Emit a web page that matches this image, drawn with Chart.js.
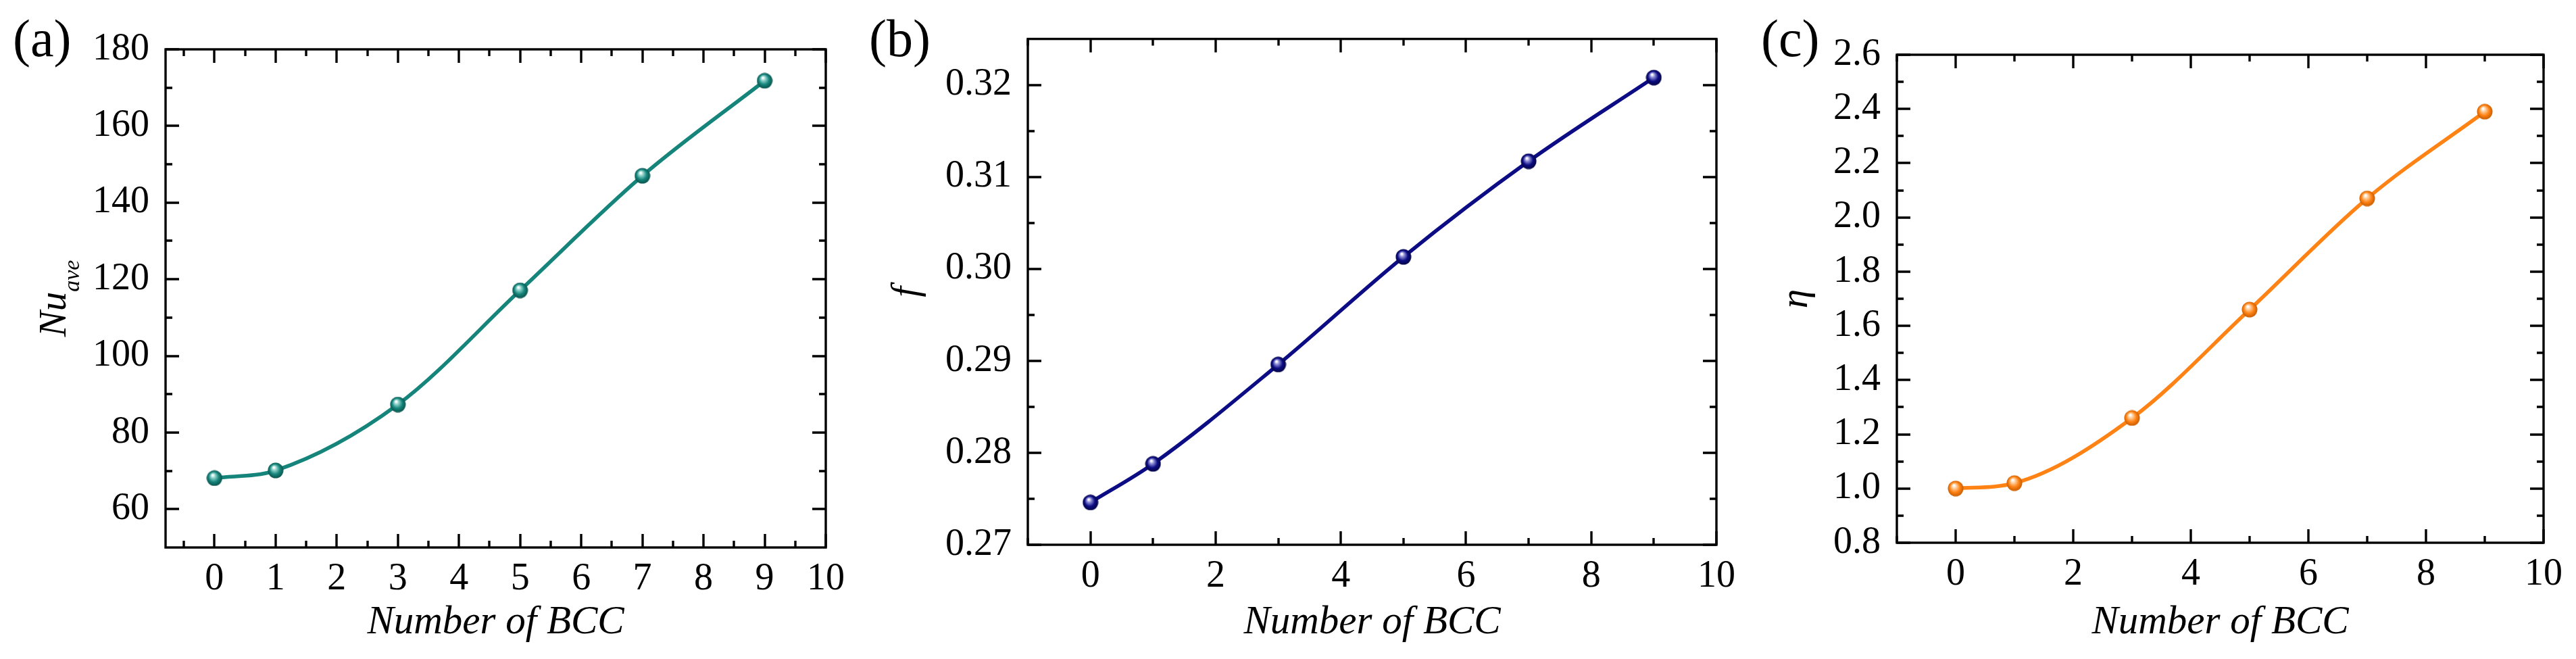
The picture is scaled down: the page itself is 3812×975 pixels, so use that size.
<!DOCTYPE html>
<html>
<head>
<meta charset="utf-8">
<script src="https://cdn.jsdelivr.net/npm/chart.js@4.4.1/dist/chart.umd.min.js"></script>
<style>
  html, body { margin: 0; padding: 0; background: #ffffff; font-family: "Liberation Serif", serif; }
  #page { position: relative; width: 3812px; height: 975px; overflow: hidden; }
  .panel { position: absolute; top: 0; height: 975px; }
</style>
</head>
<body>
<div id="page">
  <div class="panel" style="left:0px;width:1270px"><canvas id="chartNu" width="1270" height="975"></canvas></div>
  <div class="panel" style="left:1270px;width:1320px"><canvas id="chartF" width="1320" height="975"></canvas></div>
  <div class="panel" style="left:2560px;width:1252px"><canvas id="chartEta" width="1252" height="975"></canvas></div>
</div>
<script>
/*
  Three panels vs. number of BCC cells:
  (a) average Nusselt number, (b) friction factor f, (c) performance factor eta
*/

// data
const bccCounts = [0, 1, 3, 5, 7, 9];
const nuAve = [68.1, 70.1, 87.3, 117.1, 147.0, 171.8];
const frictionF = [0.2746, 0.2788, 0.2896, 0.3013, 0.3117, 0.3208];
const etaValues = [1.00, 1.02, 1.26, 1.66, 2.07, 2.39];

// tick values
const xMajorA = [0, 1, 2, 3, 4, 5, 6, 7, 8, 9, 10];
const xMinorA = [-0.5, 0.5, 1.5, 2.5, 3.5, 4.5, 5.5, 6.5, 7.5, 8.5, 9.5];
const yMajorA = [60, 80, 100, 120, 140, 160, 180];
const yMinorA = [70, 90, 110, 130, 150, 170];

const xMajorBC = [0, 2, 4, 6, 8, 10];
const xMinorBC = [-1, 1, 3, 5, 7, 9];
const yMajorB = [0.27, 0.28, 0.29, 0.30, 0.31, 0.32];
const yMinorB = [0.275, 0.285, 0.295, 0.305, 0.315];
const yMajorC = [0.8, 1.0, 1.2, 1.4, 1.6, 1.8, 2.0, 2.2, 2.4, 2.6];
const yMinorC = [0.9, 1.1, 1.3, 1.5, 1.7, 1.9, 2.1, 2.3, 2.5];

const SERIF = '"Liberation Serif", serif';

Chart.defaults.font.family = SERIF;
Chart.defaults.color = "#000";

/**
 * Small shaded ball used as point marker.
 */
function makeSphere(base, light, dark, size) {
  const c = document.createElement("canvas");
  c.width = size;
  c.height = size;
  const g = c.getContext("2d");
  const r = size / 2;
  const grad = g.createRadialGradient(r * 0.78, r * 0.62, r * 0.08, r, r, r);
  grad.addColorStop(0, "#ffffff");
  grad.addColorStop(0.22, light);
  grad.addColorStop(0.6, base);
  grad.addColorStop(1, dark);
  g.fillStyle = grad;
  g.beginPath();
  g.arc(r, r, r - 0.5, 0, Math.PI * 2);
  g.fill();
  return c;
}

/**
 * Box around the plot area plus inward ticks on all four sides.
 */
const frameTicksPlugin = {
  id: "frameTicks",
  afterDraw(chart, args, opts) {
    const { ctx, chartArea: a } = chart;
    const xs = chart.scales.x;
    const ys = chart.scales.y;
    ctx.save();
    ctx.strokeStyle = "#000";
    ctx.lineWidth = 3.4;
    ctx.beginPath();
    const xTicks = (vals, len) => {
      vals.forEach((v) => {
        const px = Math.round(xs.getPixelForValue(v));
        ctx.moveTo(px, a.bottom);
        ctx.lineTo(px, a.bottom - len);
        ctx.moveTo(px, a.top);
        ctx.lineTo(px, a.top + len);
      });
    };
    const yTicks = (vals, len) => {
      vals.forEach((v) => {
        const py = Math.round(ys.getPixelForValue(v));
        ctx.moveTo(a.left, py);
        ctx.lineTo(a.left + len, py);
        ctx.moveTo(a.right, py);
        ctx.lineTo(a.right - len, py);
      });
    };
    xTicks(opts.xMajor, 20);
    xTicks(opts.xMinor, 10);
    yTicks(opts.yMajor, 20);
    yTicks(opts.yMinor, 10);
    ctx.stroke();
    ctx.strokeRect(a.left, a.top, a.right - a.left, a.bottom - a.top);
    ctx.restore();
  },
};

/**
 * Panel letter and the rotated y title (with optional subscript).
 */
const panelTextPlugin = {
  id: "panelText",
  afterDraw(chart, args, opts) {
    const { ctx, chartArea: a } = chart;
    ctx.save();
    ctx.fillStyle = "#000";
    ctx.textBaseline = "alphabetic";
    ctx.font = `78px ${SERIF}`;
    ctx.fillText(opts.label, opts.labelX, 83);

    const mainFont = `italic 57px ${SERIF}`;
    const subFont = `italic 34px ${SERIF}`;
    ctx.font = mainFont;
    const w1 = ctx.measureText(opts.title).width;
    ctx.font = subFont;
    const w2 = opts.sub ? ctx.measureText(opts.sub).width : 0;
    const total = w1 + w2;

    ctx.translate(opts.titleX, (a.top + a.bottom) / 2);
    ctx.rotate(-Math.PI / 2);
    ctx.font = mainFont;
    ctx.fillText(opts.title, -total / 2, 0);
    if (opts.sub) {
      ctx.font = subFont;
      ctx.fillText(opts.sub, -total / 2 + w1, 20);
    }
    ctx.restore();
  },
};

/**
 * Builds one panel.
 */
function buildPanel(canvasId, cfg) {
  const canvas = document.getElementById(canvasId);
  const H = canvas.height;
  const W = canvas.width;

  return new Chart(canvas, {
    type: "line",
    data: {
      datasets: [
        {
          data: bccCounts.map((x, i) => ({ x: x, y: cfg.values[i] })),
          borderColor: cfg.color,
          borderWidth: 5.5,
          backgroundColor: cfg.color,
          cubicInterpolationMode: "monotone",
          pointStyle: makeSphere(cfg.color, cfg.light, cfg.dark, 24),
          pointRadius: 12,
          fill: false,
        },
      ],
    },
    options: {
      responsive: false,
      animation: false,
      devicePixelRatio: 1,
      layout: {
        padding: { top: cfg.top, right: W - cfg.right, left: 0, bottom: 0 },
      },
      plugins: {
        legend: { display: false },
        tooltip: { enabled: false },
        frameTicks: {
          xMajor: cfg.xMajor,
          xMinor: cfg.xMinor,
          yMajor: cfg.yMajor,
          yMinor: cfg.yMinor,
        },
        panelText: {
          label: cfg.label,
          labelX: cfg.labelX,
          title: cfg.yTitle,
          sub: cfg.ySub,
          titleX: cfg.titleX,
        },
      },
      scales: {
        x: {
          type: "linear",
          min: cfg.xMin,
          max: 10,
          border: { display: false },
          grid: { display: false, drawTicks: false },
          afterBuildTicks: (axis) => {
            axis.ticks = cfg.xMajor.map((v) => ({ value: v }));
          },
          afterFit: (axis) => {
            axis.height = H - cfg.bottom;
          },
          ticks: {
            padding: 14,
            color: "#000",
            maxRotation: 0,
            autoSkip: false,
            font: { family: SERIF, size: 56 },
            callback: (v) => String(v),
          },
          title: {
            display: true,
            text: "Number of BCC",
            color: "#000",
            font: { family: SERIF, size: 59, style: "italic" },
            padding: { top: 0, bottom: 18 },
          },
        },
        y: {
          min: cfg.yMin,
          max: cfg.yMax,
          border: { display: false },
          grid: { display: false, drawTicks: false },
          afterBuildTicks: (axis) => {
            axis.ticks = cfg.yMajor.map((v) => ({ value: v }));
          },
          afterFit: (axis) => {
            axis.width = cfg.left;
          },
          ticks: {
            padding: 24,
            color: "#000",
            autoSkip: false,
            font: { family: SERIF, size: 56 },
            callback: (v) => cfg.fmt(v),
          },
        },
      },
    },
    plugins: [frameTicksPlugin, panelTextPlugin],
  });
}

function initPanels() {
  buildPanel("chartNu", {
    values: nuAve,
    color: "#15857b",
    light: "#8fd3cc",
    dark: "#0a4f49",
    label: "(a)",
    labelX: 19,
    yTitle: "Nu",
    ySub: "ave",
    titleX: 97,
    left: 245,
    right: 1222,
    top: 73,
    bottom: 810,
    xMin: -0.8,
    yMin: 50,
    yMax: 180,
    xMajor: xMajorA,
    xMinor: xMinorA,
    yMajor: yMajorA,
    yMinor: yMinorA,
    fmt: (v) => String(v),
  });

  buildPanel("chartF", {
    values: frictionF,
    color: "#0c0c84",
    light: "#8f8fd8",
    dark: "#05053f",
    label: "(b)",
    labelX: 16,
    yTitle: "f",
    ySub: "",
    titleX: 88,
    left: 251,
    right: 1270,
    top: 42,
    bottom: 806,
    xMin: -1,
    yMin: 0.27,
    yMax: 0.325,
    xMajor: xMajorBC,
    xMinor: xMinorBC,
    yMajor: yMajorB,
    yMinor: yMinorB,
    fmt: (v) => v.toFixed(2),
  });

  buildPanel("chartEta", {
    values: etaValues,
    color: "#ff8214",
    light: "#ffd0a0",
    dark: "#c45a00",
    label: "(c)",
    labelX: 46,
    yTitle: "\u03b7",
    ySub: "",
    titleX: 114,
    left: 247,
    right: 1204,
    top: 81,
    bottom: 803,
    xMin: -1,
    yMin: 0.8,
    yMax: 2.6,
    xMajor: xMajorBC,
    xMinor: xMinorBC,
    yMajor: yMajorC,
    yMinor: yMinorC,
    fmt: (v) => v.toFixed(1),
  });
}

initPanels();
</script>
</body>
</html>
